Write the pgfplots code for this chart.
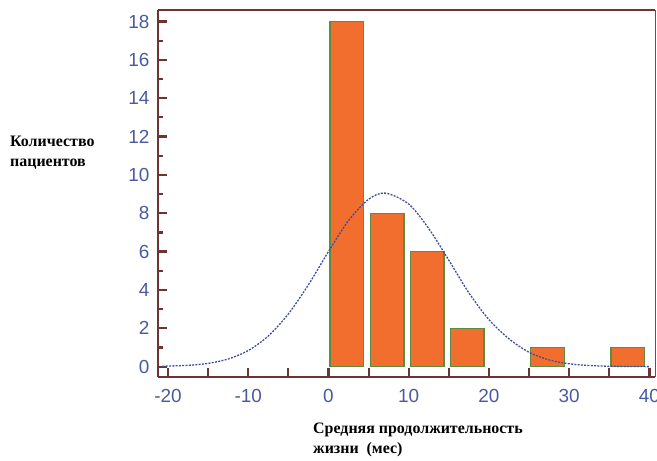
\documentclass[border=0pt]{standalone}
\usepackage{fontspec}
\setmainfont{Liberation Sans}
\newfontfamily\labfont{Liberation Serif}
\usepackage{pgfplots}
\pgfplotsset{compat=1.18}
\definecolor{axmaroon}{HTML}{6E3434}
\definecolor{tickblue}{HTML}{4A5AA2}
\definecolor{barorange}{HTML}{F26E2E}
\definecolor{baredge}{HTML}{5E8C3E}
\definecolor{curveblue}{HTML}{3F4F9E}
\begin{document}
\begin{tikzpicture}[x=1bp,y=1bp]
\path[use as bounding box] (0,0) rectangle (657,461);
\begin{axis}[
  at={(158bp,84bp)}, anchor=south west,
  scale only axis, width=497bp, height=367bp,
  xmin=-21.25, xmax=40.7, ymin=-0.54, ymax=18.6,
  axis x line*=bottom, axis y line*=left,
  axis line style={draw=axmaroon, line width=1.8bp, -},
  xtick={-20,-15,...,40},
  xticklabels={-20,,-10,,0,,10,,20,,30,,40},
  ytick={0,2,...,18}, minor ytick={1,3,...,17},
  tick align=inside,
  major tick length=9bp, minor tick length=5bp,
  tick style={draw=axmaroon, line width=2.2bp},
  xtick style={draw=axmaroon, line width=2.2bp},
  ytick style={draw=axmaroon, line width=2.2bp},
  minor tick style={draw=axmaroon, line width=2bp},
  ticklabel style={text=tickblue, font=\fontsize{19}{22}\selectfont},
  /pgf/number format/assume math mode=true,
  xticklabel style={yshift=-9bp},
  yticklabel style={xshift=-5bp},
  clip=false,
]
\addplot[ybar, bar width=4.2, fill=barorange, draw=baredge, line width=1.3bp]
  coordinates {(2.3,18) (7.3,8) (12.3,6) (17.3,2) (27.3,1) (37.3,1)};
\addplot[curveblue, line width=1.3bp, dash pattern=on 2bp off 1.3bp, smooth]
  coordinates {(-20.7,0.02) (-20,0.03) (-17.5,0.07) (-15,0.17) (-12.5,0.4)
  (-10,0.84) (-7.5,1.6) (-5,2.75) (-2.5,4.27) (0,6.0) (2.5,7.62) (5,8.73)
  (7.1,9.05) (10,8.48) (12.5,7.2) (15,5.55) (17.5,3.85) (20,2.45) (22.5,1.45)
  (25,0.75) (27.5,0.35) (30,0.15) (32.5,0.06) (35,0.02) (37.5,0.01) (40,0.0)};
\draw[axmaroon, line width=2bp] (rel axis cs:0,1) -- (rel axis cs:1,1);
\draw[axmaroon!70!gray, line width=0.9bp] (rel axis cs:1,0) -- (rel axis cs:1,1);
\end{axis}
\node[anchor=west, align=left, inner sep=0pt, font=\labfont\bfseries\fontsize{16}{20}\selectfont] at (10,308) {Количество\\пациентов};
\node[anchor=west, align=left, inner sep=0pt, font=\labfont\bfseries\fontsize{16}{20}\selectfont] at (313,21) {Средняя продолжительность\\жизни\ \ (мес)};
\end{tikzpicture}
\end{document}
